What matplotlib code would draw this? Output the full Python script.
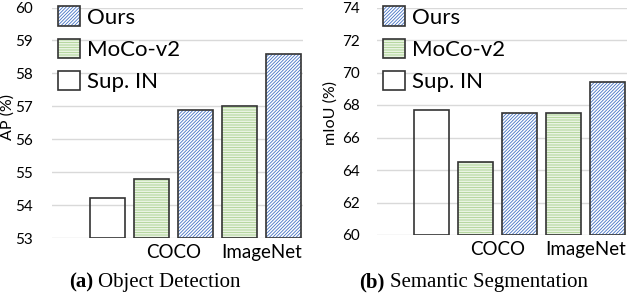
import matplotlib
matplotlib.use('Agg')
import matplotlib.pyplot as plt
from matplotlib.patches import Patch
from matplotlib.legend_handler import HandlerTuple

# ── datos ───────────────────────────────────────────────────────
methods   = ['Sup. IN', 'MoCo-v2', 'Ours', 'MoCo-v2', 'Ours']
det_ap    = [54.2, 54.8, 56.9, 57.0, 58.6]
seg_miou  = [67.7, 64.5, 67.5, 67.5, 69.4]
group_lbl = ['COCO', 'ImageNet']
group_pos = [1.5, 3.5]

BLUE  = '#4472C4'
GREEN = '#A9D18E'
EDGE  = '#333333'
GRID  = '#D9D9D9'

style = {
    'Ours':    dict(hatch='//////////', color=BLUE),
    'MoCo-v2': dict(hatch='----------', color=GREEN),
    'Sup. IN': dict(hatch='',      color=None),
}

plt.rcParams['font.family'] = ['Lato', 'DejaVu Sans']
plt.rcParams['hatch.linewidth'] = 0.6

fig = plt.figure(figsize=(6.28, 2.96), dpi=100)
ax_a = fig.add_axes([52/628, 1-238/296, 251/628, 230.5/296])
ax_b = fig.add_axes([377/628, 1-235/296, 250/628, 227.5/296])


def draw_panel(ax, vals, ylim, yticks, ylabel, xlim, lab_xy, tick_pad):
    xs = range(len(vals))
    for x, v, m in zip(xs, vals, methods):
        st = style[m]
        if st['hatch']:
            ax.bar(x, v - ylim[0], bottom=ylim[0], width=0.79, color='white',
                   edgecolor=st['color'], hatch=st['hatch'], lw=0, zorder=2)
        ax.bar(x, v - ylim[0], bottom=ylim[0], width=0.79, fill=False,
               edgecolor=EDGE, lw=1.2, zorder=3)

    ax.set_ylim(*ylim)
    ax.set_xlim(*xlim)
    ax.set_yticks(yticks)
    ax.yaxis.grid(True, color=GRID, lw=1.0, zorder=0)
    ax.set_axisbelow(True)
    for s in ax.spines.values():
        s.set_visible(False)
    ax.tick_params(axis='y', length=0, labelsize=11, pad=tick_pad)
    ax.tick_params(axis='x', length=0, labelsize=13.5, pad=4)
    ax.set_xticks(group_pos)
    ax.set_xticklabels(group_lbl)
    ax.set_ylabel(ylabel, fontsize=11.5)
    ax.yaxis.set_label_coords(*lab_xy)

    handles = []
    for m in ['Ours', 'MoCo-v2', 'Sup. IN']:
        st = style[m]
        outline = Patch(facecolor='none', edgecolor=EDGE, lw=1.2)
        if st['hatch']:
            fill = Patch(facecolor='white', edgecolor=st['color'],
                         hatch=st['hatch'], lw=0)
            handles.append((fill, outline))
        else:
            handles.append((Patch(facecolor='white', lw=0), outline))
    ax.legend(handles, ['Ours', 'MoCo-v2', 'Sup. IN'],
              handler_map={tuple: HandlerTuple(ndivide=1)},
              loc='upper left', bbox_to_anchor=(0.025, 1.005),
              frameon=False, fontsize=16, handlelength=1.0,
              handleheight=0.95, handletextpad=0.3, labelspacing=0.5,
              borderpad=0, borderaxespad=0)


draw_panel(ax_a, det_ap, (53, 60), range(53, 61), 'AP (%)',
           (-1.26, 4.44), (-0.147, 0.525), 13.5)
draw_panel(ax_b, seg_miou, (60, 74), range(60, 75, 2), 'mIoU (%)',
           (-1.23, 4.45), (-0.156, 0.536), 12)

# ── pies de figura ─────────────────────────────────────────────
cap = dict(fontsize=15, family='Liberation Serif', va='baseline')
yb = 1 - 287/296
fig.text(93/628, yb, '(a)', ha='right', weight='bold', **cap)
fig.text(98/628, yb, 'Object Detection', ha='left', **cap)
fig.text(384/628, yb, '(b)', ha='right', weight='bold', **cap)
fig.text(390/628, yb, 'Semantic Segmentation', ha='left', **cap)

fig.savefig('out.png', dpi=100)
